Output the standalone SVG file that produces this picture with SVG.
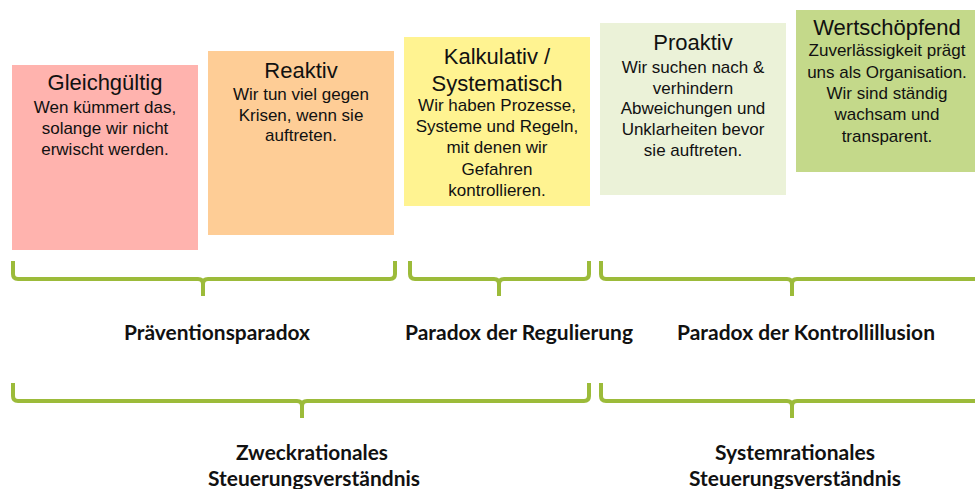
<svg xmlns="http://www.w3.org/2000/svg" width="975" height="489" viewBox="0 0 975 489">
<style>
.t{font-family:"Liberation Sans",Arial,sans-serif;font-size:22px;fill:#111;text-anchor:middle}
.b{font-family:"Liberation Sans",Arial,sans-serif;font-size:17px;fill:#111;text-anchor:middle}
.l{font-family:Lato,"Open Sans",sans-serif;font-weight:bold;font-size:20px;fill:#111;text-anchor:middle}
.br{fill:none;stroke:#9cbb3a;stroke-width:4;stroke-linecap:butt;stroke-linejoin:round}
</style>
<rect width="975" height="489" fill="#fff"/>
<g id="n1">
<rect x="12" y="65" width="186" height="185" fill="#ffb3ae"/>
<text class="t" x="105" y="90">Gleichgültig</text>
<text class="b" x="105" y="113">Wen kümmert das,</text>
<text class="b" x="105" y="134">solange wir nicht</text>
<text class="b" x="105" y="155">erwischt werden.</text>
</g>
<g id="n2">
<rect x="208" y="51" width="186" height="184" fill="#fecd96"/>
<text class="t" x="301" y="78">Reaktiv</text>
<text class="b" x="301" y="100">Wir tun viel gegen</text>
<text class="b" x="301" y="121">Krisen, wenn sie</text>
<text class="b" x="301" y="141">auftreten.</text>
</g>
<g id="n3">
<rect x="404" y="37" width="186" height="169" fill="#fff391"/>
<text class="t" x="497" y="64">Kalkulativ /</text>
<text class="t" x="497" y="91">Systematisch</text>
<text class="b" x="497" y="111">Wir haben Prozesse,</text>
<text class="b" x="497" y="132">Systeme und Regeln,</text>
<text class="b" x="497" y="153">mit denen wir</text>
<text class="b" x="497" y="175">Gefahren</text>
<text class="b" x="497" y="196">kontrollieren.</text>
</g>
<g id="n4">
<rect x="600" y="23" width="186" height="172" fill="#ebf2d8"/>
<text class="t" x="693" y="50">Proaktiv</text>
<text class="b" x="693" y="73">Wir suchen nach &amp;</text>
<text class="b" x="693" y="94">verhindern</text>
<text class="b" x="693" y="114">Abweichungen und</text>
<text class="b" x="693" y="135">Unklarheiten bevor</text>
<text class="b" x="693" y="156">sie auftreten.</text>
</g>
<g id="n5">
<rect x="796" y="10" width="183" height="162" fill="#c4d98a"/>
<text class="t" x="887" y="35">Wertschöpfend</text>
<text class="b" x="887" y="56">Zuverlässigkeit prägt</text>
<text class="b" x="887" y="78">uns als Organisation.</text>
<text class="b" x="887" y="99">Wir sind ständig</text>
<text class="b" x="887" y="120">wachsam und</text>
<text class="b" x="887" y="142">transparent.</text>
</g>
<g id="connectors">
<path class="br" d="M13 261 V274 Q13 279 18 279 H198 Q203 279 203 284 V296 M203 284 Q203 279 208 279 H390 Q395 279 395 274 V261"/>
<path class="br" d="M410 261 V274 Q410 279 415 279 H494 Q499 279 499 284 V296 M499 284 Q499 279 504 279 H584 Q589 279 589 274 V261"/>
<path class="br" d="M601 261 V274 Q601 279 606 279 H787 Q792 279 792 284 V296 M792 284 Q792 279 797 279 H980"/>
<path class="br" d="M13 383 V396 Q13 401 18 401 H297 Q302 401 302 406 V418 M302 406 Q302 401 307 401 H584 Q589 401 589 396 V383"/>
<path class="br" d="M601 383 V396 Q601 401 606 401 H787 Q792 401 792 406 V418 M792 406 Q792 401 797 401 H980"/>
</g>
<g id="labels">
<text class="l" x="217" y="340" textLength="186" lengthAdjust="spacingAndGlyphs">Präventionsparadox</text>
<text class="l" x="519" y="340" textLength="228" lengthAdjust="spacingAndGlyphs">Paradox der Regulierung</text>
<text class="l" x="806" y="340" textLength="258" lengthAdjust="spacingAndGlyphs">Paradox der Kontrollillusion</text>
<text class="l" x="312" y="460" textLength="152" lengthAdjust="spacingAndGlyphs">Zweckrationales</text>
<text class="l" x="314" y="486" textLength="212" lengthAdjust="spacingAndGlyphs">Steuerungsverständnis</text>
<text class="l" x="795" y="460" textLength="160" lengthAdjust="spacingAndGlyphs">Systemrationales</text>
<text class="l" x="795" y="486" textLength="212" lengthAdjust="spacingAndGlyphs">Steuerungsverständnis</text>
</g>
</svg>
